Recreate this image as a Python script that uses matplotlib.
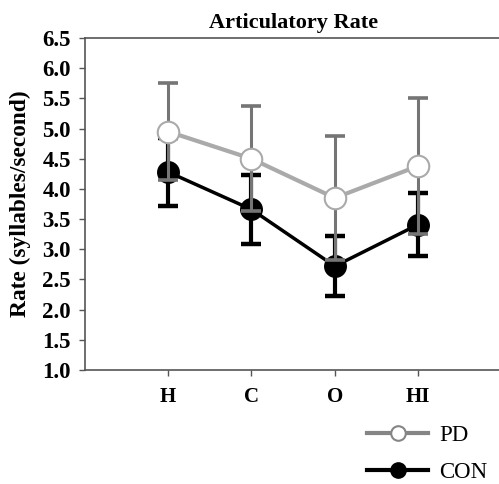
import matplotlib
matplotlib.use("Agg")
import matplotlib.pyplot as plt
from matplotlib.lines import Line2D

categories = ["H", "C", "O", "HI"]
pd_mean = [4.95, 4.50, 3.85, 4.38]
pd_sd = [0.81, 0.87, 1.02, 1.12]
con_mean = [4.28, 3.66, 2.72, 3.41]
con_sd = [0.57, 0.57, 0.50, 0.52]
yticks = [1.0, 1.5, 2.0, 2.5, 3.0, 3.5, 4.0, 4.5, 5.0, 5.5, 6.0, 6.5]

plt.rcParams['font.family'] = ['Liberation Serif', 'DejaVu Serif']

fig = plt.figure(figsize=(4.99, 4.84), dpi=100)
ax = fig.add_axes([0.170, 0.2355, 0.835, 0.686])

x = list(range(1, len(categories) + 1))

# CON
ax.errorbar(x, con_mean, yerr=con_sd, fmt='none', ecolor='black', elinewidth=3.0,
            capsize=7.4, capthick=3.2, zorder=2)
ax.plot(x, con_mean, color='black', lw=2.5, marker='o', ms=15.5,
        mfc='black', mec='black', zorder=3)
# PD
ax.errorbar(x, pd_mean, yerr=pd_sd, fmt='none', ecolor='#757575', elinewidth=2.2,
            capsize=7, capthick=2.6, zorder=4)
ax.plot(x, pd_mean, color='#aaaaaa', lw=3.0, zorder=5)
ax.plot(x, pd_mean, ls='none', marker='o', ms=15.5, mfc='white', mec='#aaaaaa',
        mew=1.5, zorder=6)

ax.set_xlim(0, 5)
ax.set_ylim(1.0, 6.5)
ax.set_yticks(yticks)
ax.set_yticklabels([f"{v:.1f}" for v in yticks], fontsize=16.5, fontweight='bold')
ax.set_xticks(x)
ax.set_xticklabels(categories, fontsize=15, fontweight='bold')
ax.tick_params(axis='both', direction='out', length=4, width=1, color='#555555')
ax.tick_params(axis='y', pad=6)
ax.tick_params(axis='x', pad=8)
for s in ['left', 'top', 'bottom']:
    ax.spines[s].set_color('#555555')
    ax.spines[s].set_linewidth(1.2)
ax.spines['right'].set_visible(False)

ax.set_ylabel("Rate (syllables/second)", fontsize=16.8, fontweight='bold', labelpad=8)
ax.set_title("Articulatory Rate", fontsize=16, fontweight='bold', pad=7)

handles = [
    Line2D([], [], color='#858585', lw=3, marker='o', ms=10.5, mfc='white', mec='#858585', mew=1.5),
    Line2D([], [], color='black', lw=3, marker='o', ms=11, mfc='black', mec='black'),
]
fig.legend(handles, ["PD", "CON"], loc='center left', bbox_to_anchor=(0.695, 0.062),
           frameon=False, fontsize=16.5, handlelength=2.65, labelspacing=0.70,
           handletextpad=0.48)

fig.savefig("out.png", dpi=100)
